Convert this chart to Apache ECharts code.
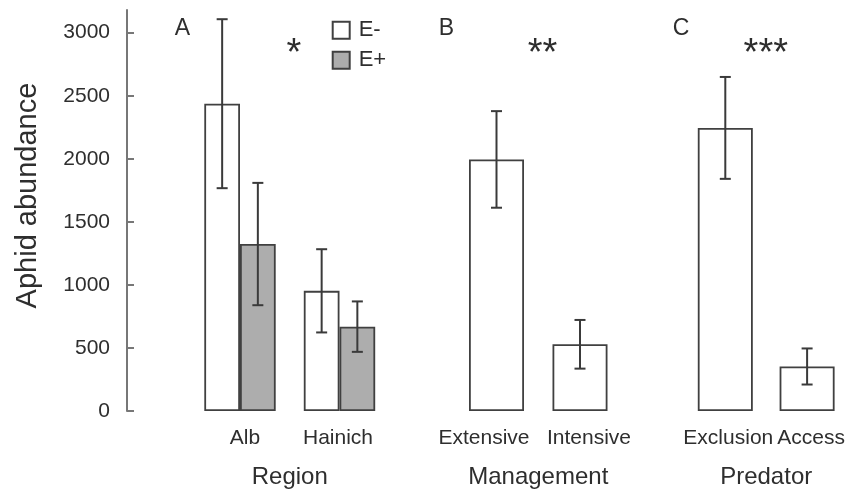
<!DOCTYPE html>
<html>
<head>
<meta charset="utf-8">
<script src="https://cdn.jsdelivr.net/npm/echarts@6/dist/echarts.min.js"></script>
<style>html,body{margin:0;padding:0;background:#fff}#c{width:848px;height:494px}</style>
</head>
<body>
<div id="c"></div>
<script>
// ---- data ----
const yTicks = [0, 500, 1000, 1500, 2000, 2500, 3000];
const regionCats = ['Alb', 'Hainich'];
const eMinusVals = [2437, 953];
const eMinusErr = [670, 330];
const ePlusVals = [1324, 669];
const ePlusErr = [485, 200];
const mgmtCats = ['Extensive', 'Intensive'];
const mgmtVals = [1995, 529];
const mgmtErr = [383, 193];
const predCats = ['Exclusion', 'Access'];
const predVals = [2245, 353];
const predErr = [404, 143];

// ---- styling ----
const FONT = 'Liberation Sans, Arial, sans-serif';
const TXT = '#2e2e2e';
const EDGE = '#404040';
const GREY = '#adadad';
const bwA = 35.7, bwB = 55;
const Y_MAX = 3180;
const gridTop = 10, gridH = 402.7;

function lblShift(map) {
  return {
    formatter: function (v) { return '{' + (map[v] || 'z') + '|' + v + '}'; },
    rich: {
      z: {},
      l12: { padding: [0, 25, 0, 0] },
      l1: { padding: [0, 3, 0, 0] },
      r9: { padding: [0, 0, 0, 18] },
      r5: { padding: [0, 0, 0, 10] },
      r4: { padding: [0, 0, 0, 8] },
      r3: { padding: [0, 0, 0, 6] }
    }
  };
}

function xAx(idx, cats, name, shift) {
  const s = lblShift(shift);
  return {
    type: 'category', gridIndex: idx, data: cats,
    axisLine: { show: false }, axisTick: { show: false },
    axisLabel: Object.assign({ interval: 0, margin: 17, fontSize: 21, color: TXT, fontFamily: FONT, hideOverlap: false }, s),
    name: name, nameLocation: 'middle', nameGap: 54,
    nameTextStyle: { fontSize: 24, color: TXT, fontFamily: FONT }
  };
}

function yAx(idx, show) {
  return {
    type: 'value', gridIndex: idx, min: 0, max: Y_MAX, show: show,
    offset: 63.25,
    splitLine: { show: false },
    axisLine: { show: true, lineStyle: { color: '#777', width: 2 } },
    axisTick: { show: true, inside: true, length: 7, lineStyle: { color: '#777', width: 2 }, customValues: yTicks },
    axisLabel: { customValues: yTicks, margin: 17, fontSize: 21, color: TXT, fontFamily: FONT,
      formatter: function (v) { return String(v); } }
  };
}

function errSeries(idx, vals, errs, offsetPx) {
  return {
    type: 'custom', xAxisIndex: idx, yAxisIndex: idx, z: 10, silent: true,
    data: vals.map((v, i) => [i, v, errs[i]]),
    encode: { x: 0, y: 1 },
    renderItem: function (params, api) {
      const i = api.value(0), v = api.value(1), e = api.value(2);
      const hi = api.coord([i, v + e]);
      const lo = api.coord([i, v - e]);
      const x = hi[0] + offsetPx;
      const cap = 5.5;
      const st = { stroke: '#3a3a3a', lineWidth: 2 };
      return {
        type: 'group', children: [
          { type: 'line', shape: { x1: x, y1: hi[1], x2: x, y2: lo[1] }, style: st },
          { type: 'line', shape: { x1: x - cap, y1: hi[1], x2: x + cap, y2: hi[1] }, style: st },
          { type: 'line', shape: { x1: x - cap, y1: lo[1], x2: x + cap, y2: lo[1] }, style: st }
        ]
      };
    }
  };
}

const barStyle = (fill) => ({ color: fill, borderColor: EDGE, borderWidth: 1.8 });

const option = {
  animation: false,
  backgroundColor: '#fff',
  textStyle: { fontFamily: FONT },
  grid: [
    { left: 190.25, width: 199, top: gridTop, height: gridH },
    { left: 454.75, width: 167, top: gridTop, height: gridH },
    { left: 684.4, width: 173, top: gridTop, height: gridH }
  ],
  xAxis: [
    xAx(0, regionCats, 'Region', { Alb: 'r5', Hainich: 'l1' }),
    xAx(1, mgmtCats, 'Management', { Extensive: 'l12', Intensive: 'r9' }),
    xAx(2, predCats, 'Predator', { Exclusion: 'r3', Access: 'r4' })
  ],
  yAxis: [yAx(0, true), yAx(1, false), yAx(2, false)],
  legend: {
    data: ['E-', 'E+'], orient: 'vertical', left: 331.7, top: 19.2, padding: 0,
    icon: 'rect', itemWidth: 17, itemHeight: 17, itemGap: 8,
    textStyle: { fontSize: 22, color: TXT, fontFamily: FONT, lineHeight: 17, padding: [0, 0, 0, 4] }
  },
  graphic: [
    { type: 'text', x: 27.5, y: 195.5, rotation: Math.PI / 2,
      style: { text: 'Aphid abundance', fontSize: 29, fill: TXT, fontFamily: FONT, align: 'center', verticalAlign: 'middle' } },
    { type: 'text', x: 182.5, y: 28.4, style: { text: 'A', fontSize: 23, fill: TXT, fontFamily: FONT, align: 'center', verticalAlign: 'middle' } },
    { type: 'text', x: 446.5, y: 28.4, style: { text: 'B', fontSize: 23, fill: TXT, fontFamily: FONT, align: 'center', verticalAlign: 'middle' } },
    { type: 'text', x: 681, y: 28.4, style: { text: 'C', fontSize: 23, fill: TXT, fontFamily: FONT, align: 'center', verticalAlign: 'middle' } },
    { type: 'text', x: 294, y: 55, style: { text: '*', fontSize: 38, fill: TXT, fontFamily: FONT, align: 'center', verticalAlign: 'middle' } },
    { type: 'text', x: 542.5, y: 55, style: { text: '**', fontSize: 38, fill: TXT, fontFamily: FONT, align: 'center', verticalAlign: 'middle' } },
    { type: 'text', x: 765.8, y: 55, style: { text: '***', fontSize: 38, fill: TXT, fontFamily: FONT, align: 'center', verticalAlign: 'middle' } }
  ],
  series: [
    { name: 'E-', type: 'bar', xAxisIndex: 0, yAxisIndex: 0, data: eMinusVals, barWidth: bwA, barGap: '0%', itemStyle: barStyle('#fff') },
    { name: 'E+', type: 'bar', xAxisIndex: 0, yAxisIndex: 0, data: ePlusVals, barWidth: bwA, barGap: '0%', itemStyle: barStyle(GREY) },
    { name: 'Management', type: 'bar', xAxisIndex: 1, yAxisIndex: 1, data: mgmtVals, barWidth: bwB, itemStyle: barStyle('#fff') },
    { name: 'Predator', type: 'bar', xAxisIndex: 2, yAxisIndex: 2, data: predVals, barWidth: bwB, itemStyle: barStyle('#fff') },
    errSeries(0, eMinusVals, eMinusErr, -bwA / 2),
    errSeries(0, ePlusVals, ePlusErr, bwA / 2),
    errSeries(1, mgmtVals, mgmtErr, 0),
    errSeries(2, predVals, predErr, 0)
  ]
};

const chart = echarts.init(document.getElementById('c'), null, { renderer: 'canvas' });
chart.setOption(option);
</script>
</body>
</html>
